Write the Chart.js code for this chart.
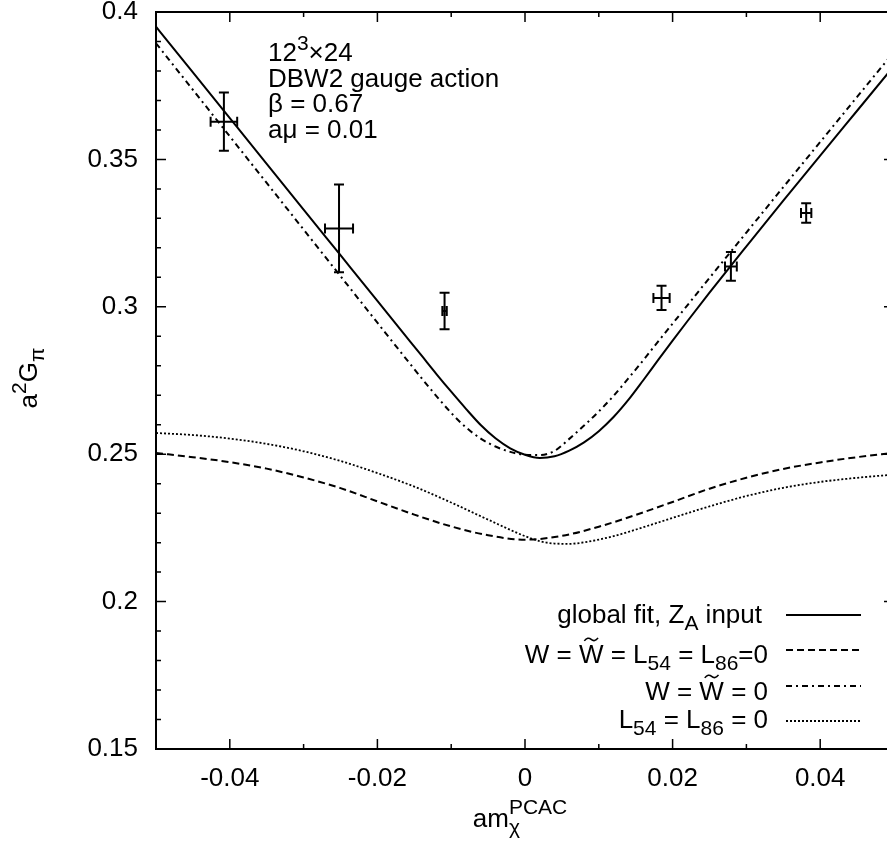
<!DOCTYPE html>
<html>
<head>
<meta charset="utf-8">
<script src="https://cdn.jsdelivr.net/npm/chart.js@4.4.1/dist/chart.umd.min.js"></script>
<style>
  html, body { margin: 0; padding: 0; background: #fff; width: 887px; height: 845px; overflow: hidden; }
  canvas { position: absolute; left: 0; top: 0; }
</style>
</head>
<body>
<canvas id="chart" width="900" height="845"></canvas>
<script>
// ===============================
// == DATA
// ===============================
// measured points (x = am_chi^PCAC, y = a^2 G_pi) with errors
const pointX    = [-0.0408, -0.0252, -0.0109, 0.0185, 0.0279, 0.0381];
const pointY    = [0.3628, 0.3266, 0.2986, 0.3030, 0.3137, 0.3318];
const pointXErr = [0.0018, 0.0019, 0.0003, 0.0011, 0.0008, 0.0007];
const pointYErr = [0.0099, 0.0149, 0.0062, 0.0041, 0.0049, 0.0033];

// global fit, Z_A input
const fitX = [-0.05, -0.045, -0.04, -0.035, -0.03, -0.025, -0.02, -0.017, -0.014, -0.012, -0.01, -0.008, -0.006,
              -0.004, -0.002, 0, 0.002, 0.004, 0.006, 0.008, 0.01, 0.012, 0.014, 0.016, 0.018, 0.02, 0.022,
              0.025, 0.03, 0.035, 0.04, 0.045, 0.05];
const fitY = [0.3950, 0.3795, 0.3640, 0.3485, 0.3330, 0.3175, 0.3020, 0.2927, 0.2834, 0.2772, 0.2712, 0.2654, 0.2599,
              0.2554, 0.2520, 0.2498, 0.2487, 0.2493, 0.2512, 0.2540, 0.2578, 0.2626, 0.2684, 0.2750, 0.2818, 0.2885, 0.2951,
              0.3048, 0.3205, 0.3360, 0.3513, 0.3665, 0.3817];

// W = W~ = L54 = L86 = 0
const noLecX = [-0.05, -0.045, -0.04, -0.035, -0.03, -0.025, -0.02, -0.015, -0.01, -0.005, 0,
                0.005, 0.01, 0.015, 0.02, 0.025, 0.03, 0.035, 0.04, 0.045, 0.05];
const noLecY = [0.2504, 0.2490, 0.2473, 0.2451, 0.2421, 0.2385, 0.2340, 0.2295, 0.2255, 0.2225, 0.2210,
                0.2223, 0.2254, 0.2294, 0.2338, 0.2383, 0.2420, 0.2450, 0.2472, 0.2490, 0.2505];

// W = W~ = 0
const noWX = [-0.05, -0.045, -0.04, -0.035, -0.03, -0.025, -0.02, -0.016, -0.013, -0.01, -0.008, -0.006, -0.004,
              -0.002, 0, 0.002, 0.004, 0.006, 0.008, 0.01, 0.012, 0.014, 0.016, 0.018, 0.02, 0.022,
              0.025, 0.03, 0.035, 0.04, 0.045, 0.05];
const noWY = [0.3894, 0.3736, 0.3578, 0.3420, 0.3262, 0.3104, 0.2946, 0.2820, 0.2727, 0.2640, 0.2591, 0.2553, 0.2526,
              0.2508, 0.2498, 0.2497, 0.2511, 0.2552, 0.2597, 0.2645, 0.2698, 0.2757, 0.2818, 0.2881, 0.2943, 0.3005,
              0.3098, 0.3252, 0.3406, 0.3559, 0.3712, 0.3865];

// L54 = L86 = 0
const noLX = [-0.05, -0.045, -0.04, -0.035, -0.03, -0.025, -0.02, -0.015, -0.01, -0.005, 0,
              0.002, 0.004, 0.006, 0.008, 0.012, 0.016, 0.02, 0.025, 0.03, 0.035, 0.04, 0.045, 0.05];
const noLY = [0.2572, 0.2565, 0.2553, 0.2535, 0.2510, 0.2477, 0.2436, 0.2390, 0.2336, 0.2278, 0.2222,
              0.2205, 0.2197, 0.2196, 0.2201, 0.2222, 0.2252, 0.2284, 0.2323, 0.2358, 0.2386, 0.2406, 0.2420, 0.2431];

// axis ticks
const xMajorTicks = [-0.04, -0.02, 0, 0.02, 0.04];
const xTickLabels = ['-0.04', '-0.02', '0', '0.02', '0.04'];
const yMajorTicks = [0.15, 0.2, 0.25, 0.3, 0.35, 0.4];
const yTickLabels = ['0.15', '0.2', '0.25', '0.3', '0.35', '0.4'];

// text (segments: [text, mode]; mode '' | 'sub' | 'sup' | 'tilde')
const infoLines = [
    [['12', ''], ['3', 'sup'], ['\u00d724', '']],
    [['DBW2 gauge action', '']],
    [['\u03b2 = 0.67', '']],
    [['a\u03bc = 0.01', '']]
];
const legendLabels = [
    [['global fit, Z', ''], ['A', 'sub'], [' input', '']],
    [['W = ', ''], ['W', 'tilde'], [' = L', ''], ['54', 'sub'], [' = L', ''], ['86', 'sub'], ['=0', '']],
    [['W = ', ''], ['W', 'tilde'], [' = 0', '']],
    [['L', ''], ['54', 'sub'], [' = L', ''], ['86', 'sub'], [' = 0', '']]
];

// ===============================
// == HELPERS
// ===============================
const FONT = '"Liberation Sans", Arial, Helvetica, sans-serif';
const FS = 26;
const SMALL = 0.8;
const toXY = (xs, ys) => xs.map((x, i) => ({ x: x, y: ys[i] }));

function segFont(mode) {
    const s = (mode === 'sub' || mode === 'sup') ? Math.round(FS * SMALL) : FS;
    return s + 'px ' + FONT;
}
function richWidth(ctx, segs) {
    let w = 0;
    segs.forEach(([t, m]) => { ctx.font = segFont(m); w += ctx.measureText(t).width; });
    return w;
}
// draws rich text starting at x with baseline y
function drawRich(ctx, segs, x, y) {
    ctx.textBaseline = 'alphabetic';
    ctx.textAlign = 'left';
    segs.forEach(([t, m]) => {
        ctx.font = segFont(m);
        let dy = 0;
        if (m === 'sub') dy = FS * 0.28;
        if (m === 'sup') dy = -FS * 0.42;
        ctx.fillText(t, x, y + dy);
        const w = ctx.measureText(t).width;
        if (m === 'tilde') {
            const top = y - FS * 0.716 - 5;
            const x0 = x + w * 0.22, x1 = x + w * 0.78, xm = (x0 + x1) / 2;
            ctx.save();
            ctx.lineWidth = 1.6;
            ctx.beginPath();
            ctx.moveTo(x0, top + 1.5);
            ctx.quadraticCurveTo((x0 + xm) / 2, top - 3, xm, top);
            ctx.quadraticCurveTo((xm + x1) / 2, top + 3, x1, top - 1.5);
            ctx.stroke();
            ctx.restore();
        }
        x += w;
    });
}

const close = (a, b) => Math.abs(a - b) < 1e-7;

// ===============================
// == PLUGIN: frame, ticks, error bars, labels
// ===============================
const decorations = {
    id: 'decorations',
    afterDatasetsDraw(chart) {
        const { ctx, chartArea: a, scales: { x, y } } = chart;
        ctx.save();
        ctx.strokeStyle = '#000';
        ctx.fillStyle = '#000';

        // error bars
        ctx.lineWidth = 2;
        const cap = 5;
        pointX.forEach((vx, i) => {
            const px = x.getPixelForValue(vx), py = y.getPixelForValue(pointY[i]);
            const yt = y.getPixelForValue(pointY[i] + pointYErr[i]);
            const yb = y.getPixelForValue(pointY[i] - pointYErr[i]);
            const xl = x.getPixelForValue(vx - pointXErr[i]);
            const xr = x.getPixelForValue(vx + pointXErr[i]);
            ctx.beginPath();
            ctx.moveTo(px, yt); ctx.lineTo(px, yb);
            ctx.moveTo(px - cap, yt); ctx.lineTo(px + cap, yt);
            ctx.moveTo(px - cap, yb); ctx.lineTo(px + cap, yb);
            ctx.moveTo(xl, py); ctx.lineTo(xr, py);
            ctx.moveTo(xl, py - cap); ctx.lineTo(xl, py + cap);
            ctx.moveTo(xr, py - cap); ctx.lineTo(xr, py + cap);
            ctx.stroke();
        });

        // frame
        ctx.lineWidth = 2;
        ctx.strokeRect(a.left, a.top, a.right - a.left, a.bottom - a.top);

        // inward ticks on all four sides
        ctx.lineWidth = 1.5;
        ctx.beginPath();
        x.ticks.forEach(t => {
            const major = xMajorTicks.some(v => close(v, t.value));
            const len = major ? 10 : 5;
            const px = x.getPixelForValue(t.value);
            ctx.moveTo(px, a.bottom); ctx.lineTo(px, a.bottom - len);
            ctx.moveTo(px, a.top); ctx.lineTo(px, a.top + len);
        });
        y.ticks.forEach(t => {
            const major = yMajorTicks.some(v => close(v, t.value));
            const len = major ? 10 : 5;
            const py = y.getPixelForValue(t.value);
            ctx.moveTo(a.left, py); ctx.lineTo(a.left + len, py);
            ctx.moveTo(a.right, py); ctx.lineTo(a.right - len, py);
        });
        ctx.stroke();

        // info text
        const infoBase = [61, 86.5, 112, 137.5];
        infoLines.forEach((segs, i) => drawRich(ctx, segs, 268, infoBase[i]));

        // legend
        const legBase = [623, 663, 700, 728];
        const legLine = [615, 650, 686, 721];
        const legRight = [762, 768, 768, 768];
        legendLabels.forEach((segs, i) => {
            const w = richWidth(ctx, segs);
            drawRich(ctx, segs, legRight[i] - w, legBase[i]);
            const ds = chart.data.datasets[i];
            ctx.save();
            ctx.lineWidth = ds.borderWidth;
            ctx.setLineDash(ds.borderDash || []);
            ctx.beginPath();
            ctx.moveTo(786, legLine[i]); ctx.lineTo(861, legLine[i]);
            ctx.stroke();
            ctx.restore();
        });

        // x title: am_chi^PCAC
        ctx.textBaseline = 'alphabetic';
        ctx.font = segFont('');
        const amW = ctx.measureText('am').width;
        ctx.font = segFont('sup');
        const supW = ctx.measureText('PCAC').width;
        const xt0 = (a.left + a.right) / 2 - 5 - (amW + supW) / 2;
        ctx.font = segFont('');
        ctx.fillText('am', xt0, 827);
        ctx.font = segFont('sup');
        ctx.fillText('PCAC', xt0 + amW, 827 - FS * 0.5);
        ctx.fillText('\u03c7', xt0 + amW, 827 + FS * 0.28);

        // y title: a^2 G_pi (rotated)
        const ySegs = [['a', ''], ['2', 'sup'], ['G', ''], ['\u03c0', 'sub']];
        const yw = richWidth(ctx, ySegs);
        ctx.save();
        ctx.translate(37, 378);
        ctx.rotate(-Math.PI / 2);
        drawRich(ctx, ySegs, -yw / 2, 0);
        ctx.restore();

        ctx.restore();
    }
};

// ===============================
// == CHART
// ===============================
const lineDs = (label, xs, ys, width, dash) => ({
    type: 'line',
    label: label,
    data: toXY(xs, ys),
    borderColor: '#000',
    borderWidth: width,
    borderDash: dash,
    pointRadius: 0,
    fill: false,
    cubicInterpolationMode: 'monotone'
});

new Chart(document.getElementById('chart'), {
    type: 'line',
    data: {
        datasets: [
            lineDs('global fit, Z_A input', fitX, fitY, 2, []),
            lineDs('W = W~ = L54 = L86=0', noLecX, noLecY, 2, [7, 4]),
            lineDs('W = W~ = 0', noWX, noWY, 2, [6, 4, 2, 4]),
            lineDs('L54 = L86 = 0', noLX, noLY, 1.8, [2, 2]),
            { type: 'scatter', label: 'data', data: toXY(pointX, pointY), pointRadius: 0 }
        ]
    },
    options: {
        responsive: false,
        animation: false,
        devicePixelRatio: 1,
        layout: { padding: { top: 12, right: 6, left: 0, bottom: 0 } },
        plugins: { legend: { display: false }, tooltip: { enabled: false } },
        scales: {
            x: {
                type: 'linear',
                min: -0.05, max: 0.05,
                grid: { display: false, drawTicks: false },
                border: { display: false },
                ticks: {
                    stepSize: 0.01,
                    autoSkip: false,
                    maxRotation: 0,
                    padding: 14,
                    color: '#000',
                    font: { family: FONT, size: FS },
                    callback: v => {
                        const i = xMajorTicks.findIndex(m => close(m, v));
                        return i >= 0 ? xTickLabels[i] : '';
                    }
                },
                afterFit: s => {
                    s.height = 96;
                    s.paddingLeft = 0; s.paddingRight = 0;
                }
            },
            y: {
                type: 'linear',
                min: 0.15, max: 0.4,
                grid: { display: false, drawTicks: false },
                border: { display: false },
                ticks: {
                    stepSize: 0.01,
                    autoSkip: false,
                    padding: 18,
                    color: '#000',
                    font: { family: FONT, size: FS },
                    callback: v => {
                        const i = yMajorTicks.findIndex(m => close(m, v));
                        return i >= 0 ? yTickLabels[i] : '';
                    }
                },
                afterFit: s => {
                    s.width = 156;
                    s.paddingTop = 0; s.paddingBottom = 0;
                }
            }
        }
    },
    plugins: [decorations]
});
</script>
</body>
</html>
